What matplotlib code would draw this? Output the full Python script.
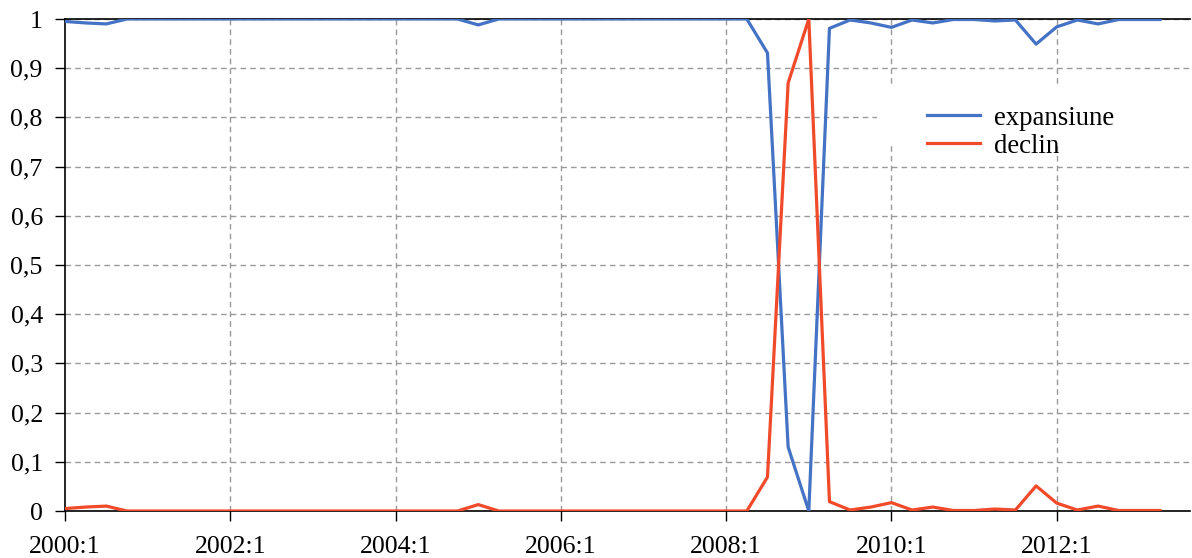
import matplotlib.pyplot as plt
from matplotlib.patches import Rectangle

plt.rcParams['font.family'] = ['Liberation Serif', 'DejaVu Serif']

# quarterly data, 2000:1 .. 2013:2
quarters = [f"{2000 + i // 4}:{i % 4 + 1}" for i in range(54)]
declin = [0.005, 0.008, 0.010, 0.0, 0.0, 0.0, 0.0, 0.0, 0.0, 0.0,
          0.0, 0.0, 0.0, 0.0, 0.0, 0.0, 0.0, 0.0, 0.0, 0.0,
          0.013, 0.0, 0.0, 0.0, 0.0, 0.0, 0.0, 0.0, 0.0, 0.0,
          0.0, 0.0, 0.0, 0.0, 0.069, 0.87, 1.0, 0.019, 0.002, 0.008,
          0.017, 0.002, 0.008, 0.001, 0.001, 0.004, 0.002, 0.051, 0.016, 0.002,
          0.010, 0.001, 0.001, 0.001]
expansiune = [0.995, 0.992, 0.990, 1.0, 1.0, 1.0, 1.0, 1.0, 1.0, 1.0,
              1.0, 1.0, 1.0, 1.0, 1.0, 1.0, 1.0, 1.0, 1.0, 1.0,
              0.988, 1.0, 1.0, 1.0, 1.0, 1.0, 1.0, 1.0, 1.0, 1.0,
              1.0, 1.0, 1.0, 1.0, 0.931, 0.13, 0.0, 0.981, 0.998, 0.992,
              0.983, 0.998, 0.992, 0.999, 0.999, 0.996, 0.998, 0.949, 0.984, 0.998,
              0.990, 0.999, 0.999, 0.999]
yticks = [0, 0.1, 0.2, 0.3, 0.4, 0.5, 0.6, 0.7, 0.8, 0.9, 1]
ylabels = ['0', '0,1', '0,2', '0,3', '0,4', '0,5', '0,6', '0,7', '0,8', '0,9', '1']

x = list(range(len(quarters)))
fs = 18.6

fig = plt.figure(figsize=(11.92, 5.58), dpi=100)
ax = fig.add_axes([65 / 1192, 1 - 511 / 558, 1125 / 1192, 492 / 558])

ax.plot(x, expansiune, color='#4472C4', lw=2.3, label='expansiune', zorder=3)
ax.plot(x, declin, color='#F04A2A', lw=2.3, label='declin', zorder=3)

ax.set_xlim(0, 54.45)
ax.set_ylim(0, 1)
ax.set_xticks(x[::8])
ax.set_xticklabels(quarters[::8], fontsize=fs)
ax.set_yticks(yticks)
ax.set_yticklabels(ylabels, fontsize=fs)
ax.tick_params(axis='y', direction='out', length=7, width=1, pad=9)
ax.tick_params(axis='x', direction='out', length=7, width=1, pad=11)

ax.set_axisbelow(True)
ax.grid(True, linestyle=(0, (4, 3)), color='#999999', lw=1)
ax.xaxis.get_gridlines()[0].set_visible(False)
for sp in ['top', 'left', 'bottom']:
    ax.spines[sp].set_linewidth(1.2)
ax.spines['right'].set_visible(False)

# white area behind legend hides the grid
ax.add_patch(Rectangle((0.722, 0.744), 0.3, 0.118, transform=ax.transAxes,
                       facecolor='white', edgecolor='none', zorder=1))
ax.legend(loc='center left', bbox_to_anchor=(0.754, 0.770), frameon=False,
          fontsize=19.3, handlelength=2.0, handletextpad=0.5, labelspacing=0.1,
          borderpad=0)

fig.savefig('out.png', dpi=100)
